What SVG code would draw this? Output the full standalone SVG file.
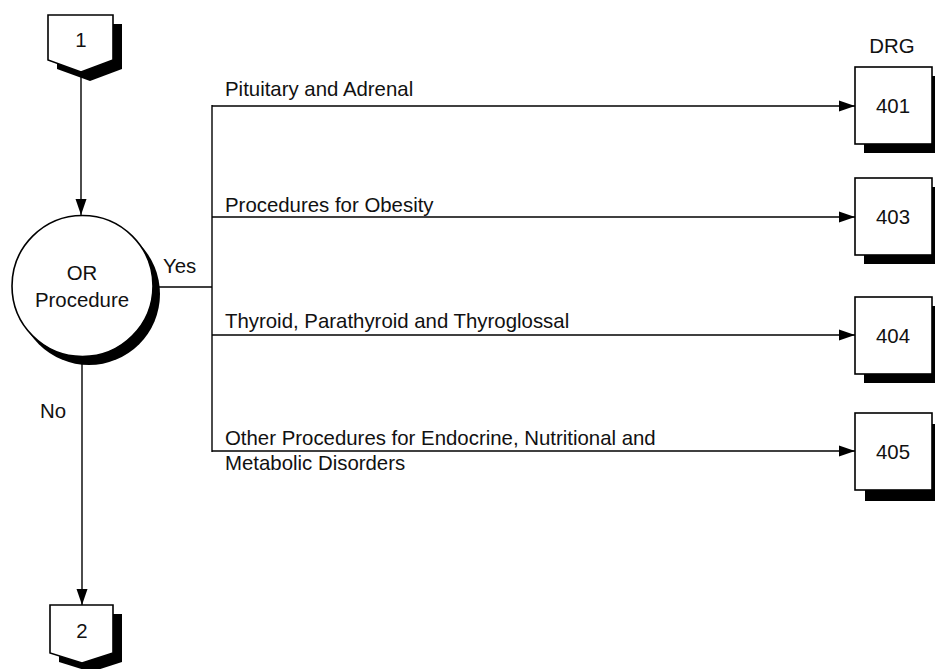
<svg xmlns="http://www.w3.org/2000/svg" width="935" height="669" viewBox="0 0 935 669">
<defs>
<style>
text{font-family:"Liberation Sans",Arial,sans-serif;font-size:20.4px;fill:#111}
.c{text-anchor:middle}
.shape{fill:#fff;stroke:#000;stroke-width:1.6}
.shadow{fill:#000;stroke:none}
.line{fill:none;stroke:#000;stroke-width:1.4}
</style>
<marker id="arr" markerWidth="16" markerHeight="12" refX="16" refY="6" orient="auto" markerUnits="userSpaceOnUse">
<path d="M0,0.5 L16,6 L0,11.5 Z" fill="#000"/>
</marker>
</defs>
<rect width="935" height="669" fill="#fff"/>
<g id="connectors">
<line class="line" x1="81" y1="72" x2="81" y2="215" marker-end="url(#arr)"/>
<line class="line" x1="82" y1="357" x2="82" y2="605" marker-end="url(#arr)"/>
<line class="line" x1="153" y1="287" x2="212" y2="287"/>
<line class="line" x1="212" y1="105" x2="212" y2="452"/>
<line class="line" x1="212" y1="106" x2="855" y2="106" marker-end="url(#arr)"/>
<line class="line" x1="212" y1="217" x2="855" y2="217" marker-end="url(#arr)"/>
<line class="line" x1="212" y1="335" x2="855" y2="335" marker-end="url(#arr)"/>
<line class="line" x1="212" y1="451" x2="855" y2="451" marker-end="url(#arr)"/>
<text x="163" y="273">Yes</text>
<text x="40" y="418">No</text>
<text x="225" y="96">Pituitary and Adrenal</text>
<text x="225" y="212">Procedures for Obesity</text>
<text x="225" y="328">Thyroid, Parathyroid and Thyroglossal</text>
<text x="225" y="445">Other Procedures for Endocrine, Nutritional and</text>
<text x="225" y="470">Metabolic Disorders</text>
</g>
<g id="node-1">
<path class="shadow" d="M57,24 H122 V69 L90,81 L57,69 Z"/>
<path class="shape" d="M48,15 H113 V60 L81,72 L48,60 Z"/>
<text class="c" x="81" y="47">1</text>
</g>
<g id="node-or">
<circle class="shadow" cx="89" cy="294" r="71"/>
<circle class="shape" cx="82.5" cy="286" r="70.5" stroke-width="2"/>
<text class="c" x="82" y="280">OR</text>
<text class="c" x="82" y="307">Procedure</text>
</g>
<g id="node-2">
<path class="shadow" d="M59,614 H122 V662 L91,672 L59,662 Z"/>
<path class="shape" d="M50,605 H113 V653 L82,663 L50,653 Z"/>
<text class="c" x="82" y="638">2</text>
</g>
<text class="c" x="892" y="53">DRG</text>
<g id="node-401">
<rect class="shadow" x="864" y="76" width="77" height="77"/>
<rect class="shape" x="855" y="67" width="77" height="77"/>
<text class="c" x="893" y="113">401</text>
</g>
<g id="node-403">
<rect class="shadow" x="864" y="187" width="77" height="77"/>
<rect class="shape" x="855" y="178" width="77" height="77"/>
<text class="c" x="893" y="224">403</text>
</g>
<g id="node-404">
<rect class="shadow" x="864" y="306" width="77" height="77"/>
<rect class="shape" x="855" y="297" width="77" height="77"/>
<text class="c" x="893" y="343">404</text>
</g>
<g id="node-405">
<rect class="shadow" x="865" y="424" width="77" height="77"/>
<rect class="shape" x="855" y="413" width="77" height="77"/>
<text class="c" x="893" y="459">405</text>
</g>
</svg>
